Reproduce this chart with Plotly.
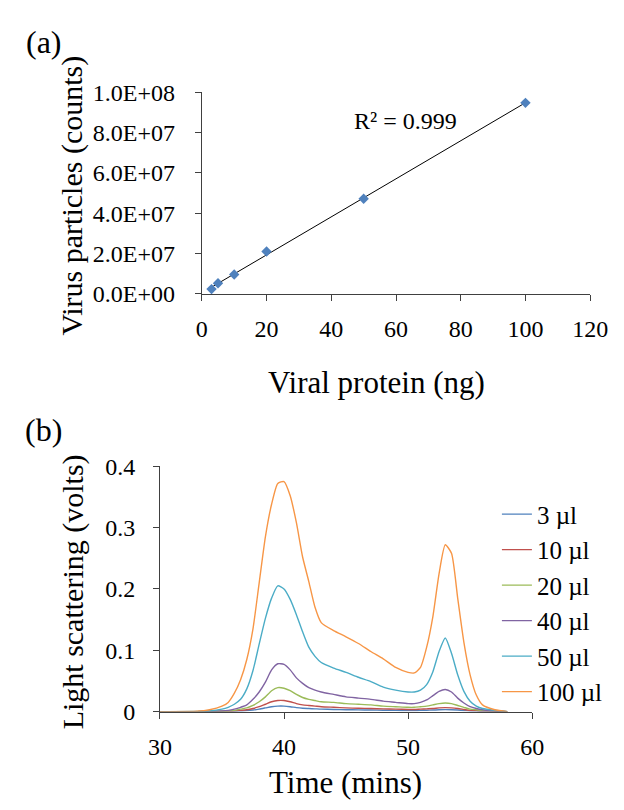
import numpy as np
import plotly.graph_objects as go

# ---------------- Panel (a) data ----------------
protein_ng = [3, 5, 10, 20, 50, 100]
particles = [2.4e6, 5.3e6, 9.6e6, 2.1e7, 4.72e7, 9.47e7]
a_ytick_vals = [0, 2e7, 4e7, 6e7, 8e7, 1e8]
a_ytick_text = ["0.0E+00", "2.0E+07", "4.0E+07", "6.0E+07", "8.0E+07", "1.0E+08"]
a_xtick_vals = [0, 20, 40, 60, 80, 100, 120]
r2_label = "R² = 0.999"

# ---------------- Panel (b) data ----------------
time_min = [30, 33, 34, 35, 35.5, 36, 36.5, 37, 37.5, 38,
            38.5, 39, 39.5, 40, 40.5, 41, 41.5, 42, 42.5, 43,
            44, 45, 46, 47, 48, 49, 50,
            50.5, 51, 51.5, 52, 52.5, 53, 53.5, 54, 54.5, 55, 55.5, 56,
            57, 58]
ls_3ul = [0, 0, 0, 0.0001, 0.0003, 0.0005, 0.001, 0.0015, 0.0025, 0.004,
          0.006, 0.008, 0.009, 0.009, 0.008, 0.0065, 0.0055, 0.005, 0.0045, 0.004,
          0.0035, 0.003, 0.0028, 0.0025, 0.0022, 0.002, 0.0018,
          0.0018, 0.002, 0.0022, 0.0025, 0.003, 0.0032, 0.003, 0.0025, 0.0018, 0.001, 0.0008, 0.0005,
          0.0002, 0]
ls_10ul = [0, 0, 0.0001, 0.0003, 0.0005, 0.001, 0.002, 0.003, 0.005, 0.008,
           0.012, 0.016, 0.018, 0.018, 0.016, 0.013, 0.011, 0.01, 0.009, 0.008,
           0.007, 0.006, 0.0055, 0.005, 0.0045, 0.004, 0.0035,
           0.0035, 0.004, 0.0045, 0.005, 0.006, 0.0065, 0.006, 0.005, 0.0035, 0.002, 0.0015, 0.001,
           0.0005, 0]
ls_20ul = [0, 0, 0.0002, 0.0005, 0.001, 0.002, 0.004, 0.006, 0.01, 0.016,
           0.024, 0.034, 0.039, 0.038, 0.034, 0.028, 0.023, 0.02, 0.018, 0.016,
           0.015, 0.013, 0.012, 0.011, 0.009, 0.008, 0.007,
           0.007, 0.008, 0.009, 0.011, 0.013, 0.014, 0.013, 0.01, 0.007, 0.004, 0.003, 0.002,
           0.001, 0]
ls_40ul = [0, 0, 0.0005, 0.001, 0.002, 0.004, 0.007, 0.011, 0.02, 0.032,
           0.048, 0.068, 0.078, 0.077, 0.068, 0.055, 0.046, 0.039, 0.035, 0.032,
           0.028, 0.024, 0.022, 0.02, 0.017, 0.015, 0.013,
           0.013, 0.015, 0.019, 0.026, 0.033, 0.036, 0.032, 0.022, 0.014, 0.008, 0.005, 0.003,
           0.001, 0]
ls_50ul = [0, 0.0003, 0.001, 0.004, 0.007, 0.012, 0.02, 0.037, 0.067, 0.11,
           0.152, 0.185, 0.205, 0.2, 0.183, 0.158, 0.13, 0.105, 0.09, 0.08,
           0.071, 0.064, 0.056, 0.049, 0.04, 0.035, 0.032,
           0.032, 0.035, 0.044, 0.065, 0.098, 0.12, 0.095, 0.06, 0.033, 0.017, 0.009, 0.005,
           0.002, 0]
ls_100ul = [0, 0.0005, 0.003, 0.009, 0.015, 0.03, 0.052, 0.085, 0.135, 0.21,
            0.285, 0.338, 0.372, 0.375, 0.352, 0.308, 0.252, 0.212, 0.17, 0.145,
            0.132, 0.122, 0.111, 0.098, 0.086, 0.072, 0.064,
            0.063, 0.072, 0.105, 0.155, 0.225, 0.272, 0.258, 0.185, 0.113, 0.06, 0.027, 0.011,
            0.003, 0]
series_names = ["3 µl", "10 µl", "20 µl", "40 µl", "50 µl", "100 µl"]
series_values = [ls_3ul, ls_10ul, ls_20ul, ls_40ul, ls_50ul, ls_100ul]
series_colors = ["#4F81BD", "#C0504D", "#9BBB59", "#8064A2", "#4BACC6", "#F79646"]
b_ytick_vals = [0, 0.1, 0.2, 0.3, 0.4]
b_ytick_text = ["0", "0.1", "0.2", "0.3", "0.4"]
b_xtick_vals = [30, 40, 50, 60]

# ---------------- Figure ----------------
W, H = 624, 810
FONT = "Liberation Serif"
AXC = "#404040"

def px_x(p):
    return p / W

def px_y(p):
    return 1 - p / H

fig = go.Figure()

# Panel (a): points + linear trendline
slope, intercept = np.polyfit(protein_ng, particles, 1)
fit_x = [min(protein_ng), max(protein_ng)]
fit_y = [slope * v + intercept for v in fit_x]
fig.add_trace(go.Scatter(x=fit_x, y=fit_y, mode="lines",
                         line=dict(color="black", width=1),
                         showlegend=False, xaxis="x", yaxis="y"))
fig.add_trace(go.Scatter(x=protein_ng, y=particles, mode="markers",
                         marker=dict(symbol="diamond", size=8, color="#4F81BD"),
                         showlegend=False, xaxis="x", yaxis="y"))

# Panel (b): light scattering curves
for name, vals, col in zip(series_names, series_values, series_colors):
    fig.add_trace(go.Scatter(x=time_min, y=vals, mode="lines", name=name,
                             line=dict(color=col, width=1.4, shape="spline",
                                       smoothing=0.6),
                             xaxis="x2", yaxis="y2"))

axis_common = dict(showgrid=False, zeroline=False, showline=True,
                   linecolor=AXC, linewidth=1, ticks="outside",
                   tickcolor=AXC, ticklen=6, tickwidth=1,
                   tickfont=dict(family=FONT, size=24, color="black"))

fig.update_layout(
    width=W, height=H,
    margin=dict(l=0, r=0, t=0, b=0),
    paper_bgcolor="white", plot_bgcolor="white",
    font=dict(family=FONT, color="black"),
    xaxis=dict(domain=[px_x(191), px_x(599)], range=[0, 120],
               tickvals=a_xtick_vals, anchor="y", ticklabelstandoff=7,
               **axis_common),
    yaxis=dict(domain=[px_y(282), px_y(73.5)], range=[0, 1e8],
               tickvals=a_ytick_vals, ticktext=a_ytick_text, anchor="x",
               ticklabelstandoff=15, **axis_common),
    xaxis2=dict(domain=[px_x(147), px_x(538)], range=[30, 60],
                tickvals=b_xtick_vals, anchor="y2", ticklabelstandoff=8,
                **axis_common),
    yaxis2=dict(domain=[px_y(713.5), px_y(460)], range=[0, 0.4],
                tickvals=b_ytick_vals, ticktext=b_ytick_text, anchor="x2",
                ticklabelstandoff=13, **axis_common),
    legend=dict(x=px_x(501), y=px_y(486), xanchor="left", yanchor="top",
                font=dict(family=FONT, size=25, color="black"),
                bgcolor="rgba(0,0,0,0)", itemwidth=30, tracegroupgap=0),
    showlegend=True,
)

ann = [
    dict(text="(a)", x=px_x(25), y=px_y(22), font=dict(size=32)),
    dict(text="(b)", x=px_x(25), y=px_y(423), font=dict(size=32)),
    dict(text="Virus particles (counts)", x=px_x(55), y=px_y(180),
         textangle=-90, font=dict(size=30)),
    dict(text="Viral protein (ng)", x=px_x(374), y=px_y(373), font=dict(size=31)),
    dict(text="Light scattering (volts)", x=px_x(56), y=px_y(590),
         textangle=-90, font=dict(size=30)),
    dict(text="Time (mins)", x=px_x(342), y=px_y(787), font=dict(size=31)),
]
for a in ann:
    a.update(xref="paper", yref="paper", showarrow=False,
             xanchor="center", yanchor="middle")
    a["font"].update(family=FONT, color="black")
    fig.add_annotation(**a)

fig.add_annotation(text=r2_label, x=63, y=8.57e7, xref="x", yref="y",
                   showarrow=False, xanchor="center", yanchor="middle",
                   font=dict(family=FONT, size=24, color="black"))

fig.write_html("out.html")
